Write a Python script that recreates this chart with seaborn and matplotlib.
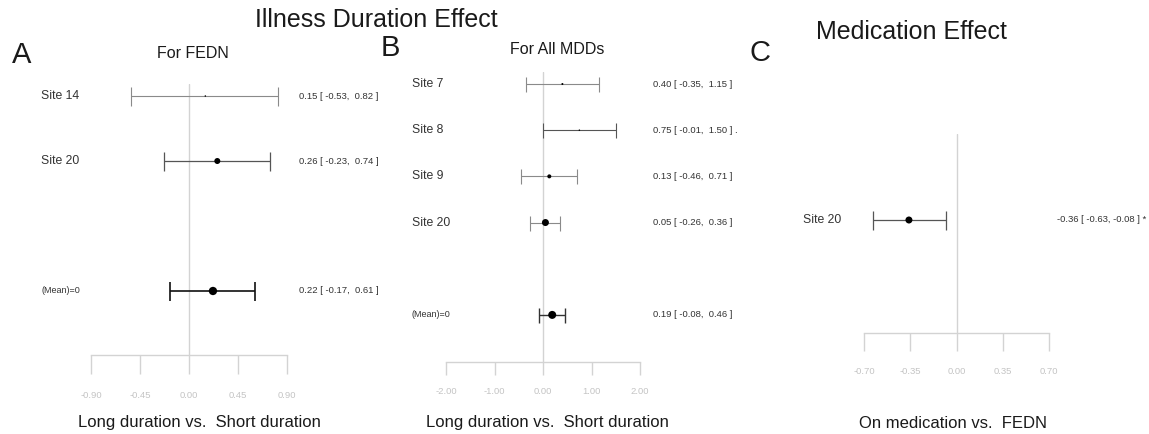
import numpy as np
import pandas as pd
import matplotlib
matplotlib.use("Agg")
import matplotlib.pyplot as plt
import matplotlib.transforms as mtrans
import seaborn as sns

# ---------------- data ----------------
A_sites = ["Site 14", "Site 20", "(Mean)=0"]
A_est = [0.15, 0.26, 0.22]
A_lo = [-0.53, -0.23, -0.17]
A_hi = [0.82, 0.74, 0.61]
A_sig = ["", "", ""]
A_ticks = [-0.90, -0.45, 0.00, 0.45, 0.90]

B_sites = ["Site 7", "Site 8", "Site 9", "Site 20", "(Mean)=0"]
B_est = [0.40, 0.75, 0.13, 0.05, 0.19]
B_lo = [-0.35, -0.01, -0.46, -0.26, -0.08]
B_hi = [1.15, 1.50, 0.71, 0.36, 0.46]
B_sig = ["", " .", "", "", ""]
B_ticks = [-2.00, -1.00, 0.00, 1.00, 2.00]

C_sites = ["Site 20"]
C_est = [-0.36]
C_lo = [-0.63]
C_hi = [-0.08]
C_sig = [" *"]
C_ticks = [-0.70, -0.35, 0.00, 0.35, 0.70]

# ---------------- style ----------------
sns.set_theme(style="white")
plt.rcParams["font.family"] = ["Liberation Sans", "DejaVu Sans"]
plt.rcParams["axes.unicode_minus"] = False

W, H = 1149, 434
fig = plt.figure(figsize=(W / 100, H / 100), dpi=100)
fig.patch.set_facecolor("white")

AXC = "#d3d3d3"
TXT = "#333333"


def px_axes(x0, x1, y0, y1):
    return fig.add_axes([x0 / W, 1 - y1 / H, (x1 - x0) / W, (y1 - y0) / H])


def panel(ax, sites, est, lo, hi, sig, ticks, ylim, has_mean, dot_px, bar_col, bar_lw,
          cap_px, tick_px, pad_px, label_x, text_x, mean_fs):
    n = len(sites)
    ypos = [i + 1 + (1 if (has_mean and i == n - 1) else 0) for i in range(n)]
    df = pd.DataFrame({"site": sites, "est": est, "lo": lo, "hi": hi, "y": ypos})
    ax.axvline(0, color=AXC, lw=1.0, zorder=0)
    for i, r in df.iterrows():
        ax.errorbar(r["est"], r["y"], xerr=[[r["est"] - r["lo"]], [r["hi"] - r["est"]]],
                    fmt="none", ecolor=bar_col[i], elinewidth=bar_lw[i],
                    capsize=cap_px * 0.72 / 2, capthick=bar_lw[i], zorder=2)
    df["sz"] = [(d * 0.72) ** 2 for d in dot_px]
    sns.scatterplot(data=df, x="est", y="y", s=df["sz"].tolist(), color="black",
                    edgecolor="none", legend=False, ax=ax, zorder=3)
    ax.set_xlim(ticks[0], ticks[-1])
    ax.set_ylim(*ylim)
    ax.set_xticks(ticks)
    ax.set_xticklabels([f"{t:.2f}" for t in ticks])
    ax.set_yticks([])
    ax.set_xlabel("")
    ax.set_ylabel("")
    for s in ["top", "right", "left"]:
        ax.spines[s].set_visible(False)
    ax.spines["bottom"].set_color(AXC)
    ax.spines["bottom"].set_linewidth(1.0)
    ax.tick_params(axis="x", direction="out", length=tick_px * 0.72, width=1.0,
                   color=AXC, labelcolor="#c4c4c4", labelsize=6.8, pad=pad_px * 0.72,
                   bottom=True)
    ax.patch.set_alpha(0)
    trl = mtrans.blended_transform_factory(fig.transFigure, ax.transData)
    for i, r in df.iterrows():
        is_mean = has_mean and i == n - 1
        ax.text(label_x / W, r["y"], r["site"], transform=trl, ha="left", va="center",
                fontsize=mean_fs if is_mean else 8.8, color=TXT, clip_on=False)
        s = f"{r['est']:.2f} [ {r['lo']:.2f}, {r['hi']:5.2f} ]{sig[i]}"
        ax.text(text_x / W, r["y"], s, transform=trl, ha="left", va="center",
                fontsize=6.8, color=TXT, clip_on=False)


# Panel A
axA = px_axes(91, 287, 84, 355)
panel(axA, A_sites, A_est, A_lo, A_hi, A_sig, A_ticks, (4.985, 0.815), True,
      dot_px=[1.5, 6.0, 8.3], bar_col=["#8a8a8a", "#555555", "#111111"],
      bar_lw=[0.8, 0.9, 1.2], cap_px=19, tick_px=19, pad_px=17,
      label_x=41, text_x=299, mean_fs=6.5)

# Panel B
axB = px_axes(446, 640, 72, 362)
panel(axB, B_sites, B_est, B_lo, B_hi, B_sig, B_ticks, (7.02, 0.74), True,
      dot_px=[2.0, 1.5, 4.0, 7.0, 8.0], bar_col=["#8a8a8a", "#555555", "#8a8a8a", "#8a8a8a", "#333333"],
      bar_lw=[0.8, 0.8, 0.8, 0.8, 1.0], cap_px=15, tick_px=13, pad_px=12.5,
      label_x=412, text_x=653, mean_fs=6.5)

# Panel C
axC = px_axes(864, 1049, 134, 333)
panel(axC, C_sites, C_est, C_lo, C_hi, C_sig, C_ticks, (1 + 113 / 65, 1 - 86 / 65), False,
      dot_px=[7.0], bar_col=["#555555"], bar_lw=[0.9], cap_px=19, tick_px=18, pad_px=15.5,
      label_x=803, text_x=1057, mean_fs=6.5)

# Titles and labels
def ftxt(x, y, s, fs, **kw):
    fig.text(x / W, 1 - y / H, s, fontsize=fs, ha="center", va="center", color="#1a1a1a", **kw)

ftxt(376, 20, "Illness Duration Effect", 18)
ftxt(911, 32, "Medication Effect", 18)
ftxt(22, 55, "A", 21)
ftxt(390, 48, "B", 21)
ftxt(760, 53, "C", 21)
ftxt(193, 53, "For FEDN", 11.5)
ftxt(557, 49, "For All MDDs", 11.5)
ftxt(199, 423, "Long duration vs.  Short duration", 12)
ftxt(547, 423, "Long duration vs.  Short duration", 12)
ftxt(953, 423, "On medication vs.  FEDN", 12)

fig.savefig("out.png", dpi=100, facecolor="white")
